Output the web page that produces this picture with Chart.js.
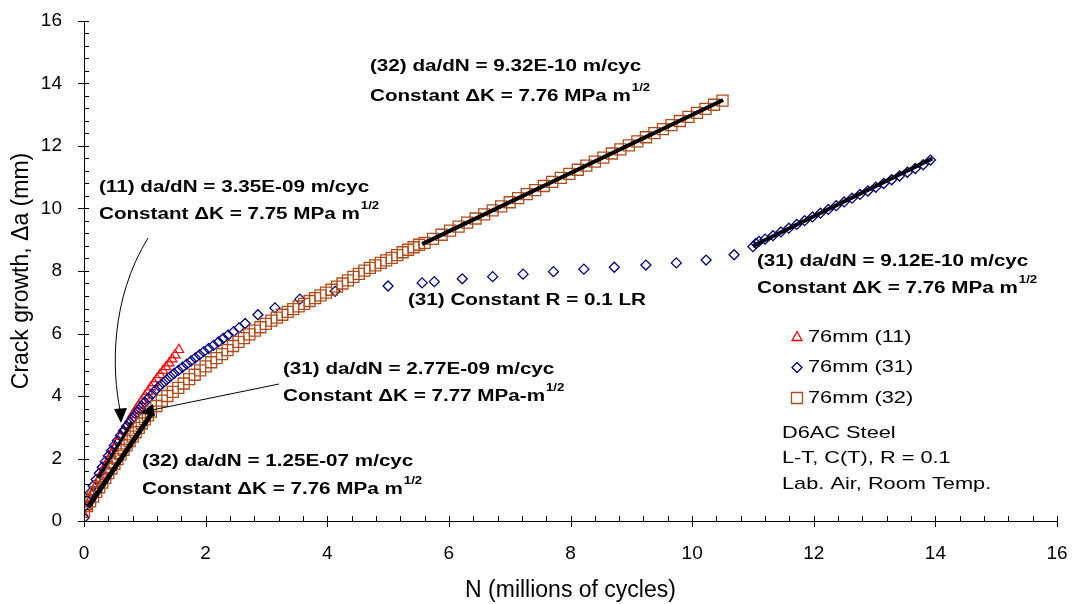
<!DOCTYPE html>
<html>
<head>
<meta charset="utf-8">
<script src="https://cdn.jsdelivr.net/npm/chart.js@4.4.0/dist/chart.umd.min.js"></script>
<style>
  html, body { margin: 0; padding: 0; background: #fff; }
</style>
</head>
<body>
<canvas id="crackChart" width="1077" height="604"></canvas>
<script>
// --- data: N in millions of cycles, crack growth in mm ---
const n11 = [0.00,0.05,0.10,0.15,0.20,0.25,0.30,0.35,0.40,0.45,0.50,0.55,0.60,0.65,0.70,0.75,
             0.80,0.85,0.90,0.95,1.00,1.05,1.10,1.15,1.20,1.25,1.30,1.35,1.40,1.45,1.50,1.56];
const a11 = [0.20,0.45,0.70,0.93,1.15,1.36,1.56,1.76,1.95,2.14,2.33,2.52,2.70,2.88,3.06,3.23,
             3.40,3.55,3.70,3.85,4.00,4.14,4.28,4.42,4.55,4.68,4.81,4.93,5.05,5.18,5.31,5.48];

const n31 = [0.00,0.00,0.05,0.10,0.15,0.20,0.25,0.30,0.35,0.40,0.45,0.50,0.55,0.60,0.65,0.70,0.75,
             0.80,0.85,0.90,0.95,1.00,1.06,1.12,1.18,1.24,1.30,1.36,1.42,1.48,1.55,1.62,1.69,1.76,
             1.83,1.90,1.97,2.05,2.13,2.21,2.29,2.37,2.46,2.55,
             2.65,2.86,3.14,3.55,4.13,5.00,5.56,5.76,6.22,6.72,7.22,7.72,8.22,8.72,9.24,9.74,10.23,10.69,
             11.00,11.05,11.10,11.20,11.33,11.46,11.59,11.72,11.85,11.98,12.11,12.24,12.37,12.50,
             12.63,12.76,12.89,13.02,13.15,13.28,13.41,13.54,13.67,13.80,13.92];
const a31 = [0.10,0.45,0.65,0.90,1.12,1.33,1.53,1.72,1.90,2.08,2.25,2.42,2.58,2.74,2.89,3.03,3.16,
             3.29,3.42,3.55,3.67,3.80,3.93,4.06,4.19,4.31,4.42,4.52,4.62,4.72,4.82,4.92,5.02,5.12,
             5.22,5.32,5.42,5.52,5.62,5.73,5.84,5.95,6.06,6.18,
             6.32,6.60,6.82,7.10,7.35,7.52,7.62,7.66,7.75,7.82,7.90,7.98,8.06,8.12,8.19,8.26,8.35,8.52,
             8.78,8.88,8.95,9.02,9.13,9.25,9.37,9.49,9.61,9.73,9.85,9.97,10.09,10.21,
             10.33,10.45,10.56,10.68,10.80,10.92,11.04,11.16,11.28,11.40,11.55];

const n32 = [0.00,0.05,0.10,0.15,0.20,0.25,0.30,0.35,0.40,0.45,0.50,0.55,0.60,0.65,0.70,0.75,0.80,
             0.85,0.90,0.95,1.00,1.05,1.10,1.19,1.28,1.37,1.46,1.55,1.64,1.73,1.82,1.91,2.00,2.09,
             2.18,2.27,2.36,2.45,2.54,2.63,2.72,2.81,2.90,2.99,3.08,3.17,3.26,3.35,3.44,3.53,3.62,
             3.71,3.80,3.89,3.98,4.07,4.16,4.25,4.34,4.43,4.52,4.61,4.70,4.79,4.88,4.97,5.06,5.15,
             5.24,5.33,5.42,5.51,
             5.60,5.74,5.88,6.02,6.16,6.30,6.44,6.58,6.72,6.86,7.00,7.14,7.28,7.42,7.56,7.70,7.84,
             7.98,8.12,8.26,8.40,8.54,8.68,8.82,8.96,9.10,9.24,9.38,9.52,9.66,9.80,9.94,10.08,10.22,
             10.36,10.50];
const a32 = [0.30,0.48,0.63,0.78,0.93,1.08,1.23,1.38,1.53,1.68,1.83,1.98,2.13,2.28,2.42,2.56,2.70,
             2.84,2.98,3.12,3.25,3.38,3.50,3.68,3.85,4.00,4.13,4.26,4.40,4.54,4.68,4.82,4.95,5.08,
             5.21,5.34,5.47,5.60,5.73,5.85,5.97,6.09,6.20,6.31,6.41,6.51,6.60,6.69,6.78,6.87,6.95,
             7.04,7.13,7.22,7.31,7.40,7.50,7.60,7.70,7.81,7.91,8.01,8.10,8.18,8.26,8.34,8.42,8.51,
             8.60,8.68,8.76,8.84,
             8.90,9.03,9.16,9.29,9.42,9.55,9.68,9.81,9.94,10.07,10.20,10.33,10.46,10.59,10.72,10.85,10.98,
             11.11,11.24,11.37,11.50,11.63,11.76,11.89,12.02,12.15,12.28,12.41,12.54,12.67,12.80,12.93,13.06,13.19,
             13.32,13.45];

// constant dK linear fits (end points)
const fit32aN = [0.07, 1.12], fit32aA = [0.45, 3.46];
const fit31aN = [0.23, 0.79], fit31aA = [1.38, 3.17];
const fit32bN = [5.56, 10.51], fit32bA = [8.86, 13.47];
const fit31bN = [11.00, 13.95], fit31bA = [8.80, 11.60];

const xTicks = [0, 2, 4, 6, 8, 10, 12, 14, 16];
const yTicks = [0, 2, 4, 6, 8, 10, 12, 14, 16];

const seriesNames = ['76mm (11)', '76mm (31)', '76mm (32)'];
const RED = '#ff0000', NAVY = '#000080', BROWN = '#b04c18';

const zip = (xs, ys) => xs.map((v, i) => ({ x: v, y: ys[i] }));

function fitSet(xs, ys, w) {
    return { label: 'fit', data: zip(xs, ys), showLine: true, borderColor: '#000',
             borderWidth: w, pointRadius: 0, borderCapStyle: 'butt', order: 0 };
}

// text in the source is a bit wider than it is tall, so it is drawn with a stretch
function sText(ctx, s, x, y, font, sx) {
    ctx.save();
    ctx.font = font;
    ctx.textBaseline = 'middle';
    ctx.textAlign = 'left';
    ctx.translate(x, y);
    ctx.scale(sx, 1);
    ctx.fillText(s, 0, 0);
    const w = ctx.measureText(s).width * sx;
    ctx.restore();
    return w;
}

const BOLD = 'bold 16px "Liberation Sans", Arial, sans-serif';
const PLAIN = '17px "Liberation Sans", Arial, sans-serif';
const SUP = 'bold 11px "Liberation Sans", Arial, sans-serif';

function dkLine(ctx, x, y, head) {
    const w = sText(ctx, head, x, y, BOLD, 1.29);
    sText(ctx, '1/2', x + w + 1, y - 9, SUP, 1.2);
}

function marker(ctx, style, x, y) {
    ctx.beginPath();
    if (style === 'triangle') {
        ctx.moveTo(x, y - 5.5); ctx.lineTo(x + 5, y + 3.5); ctx.lineTo(x - 5, y + 3.5); ctx.closePath();
    } else if (style === 'diamond') {
        ctx.moveTo(x, y - 5); ctx.lineTo(x + 5, y); ctx.lineTo(x, y + 5); ctx.lineTo(x - 5, y); ctx.closePath();
    } else {
        ctx.rect(x - 5.5, y - 5.5, 11, 11);
    }
    ctx.stroke();
}

const decor = {
    id: 'decor',
    afterDraw(chart) {
        const { ctx, chartArea: ca, scales: { x, y } } = chart;
        ctx.save();
        ctx.strokeStyle = '#000';
        ctx.lineWidth = 1;
        // axes + tick marks
        ctx.beginPath();
        ctx.moveTo(ca.left + 0.5, ca.top);
        ctx.lineTo(ca.left + 0.5, ca.bottom + 0.5);
        ctx.lineTo(ca.right, ca.bottom + 0.5);
        for (let v = 0; v <= 16.001; v += 0.4) {
            const major = Math.abs(v / 2 - Math.round(v / 2)) < 0.01;
            const px = Math.round(x.getPixelForValue(v)) + 0.5;
            const py = Math.round(y.getPixelForValue(v)) + 0.5;
            ctx.moveTo(px, ca.bottom - 5); ctx.lineTo(px, ca.bottom + (major ? 6 : 0));
            ctx.moveTo(ca.left + 5, py); ctx.lineTo(ca.left - (major ? 6 : 0), py);
        }
        ctx.stroke();

        // arrows
        ctx.beginPath();
        ctx.moveTo(148, 238);
        ctx.bezierCurveTo(110, 300, 112, 370, 120, 410);
        ctx.moveTo(279, 384);
        ctx.lineTo(152, 410);
        ctx.stroke();
        ctx.fillStyle = '#000';
        ctx.beginPath();
        ctx.moveTo(121, 423); ctx.lineTo(114, 409); ctx.lineTo(127, 408); ctx.closePath();
        ctx.fill();
        ctx.beginPath();
        ctx.moveTo(140, 413); ctx.lineTo(153, 404); ctx.lineTo(155, 416); ctx.closePath();
        ctx.fill();

        // annotations
        ctx.fillStyle = '#000';
        sText(ctx, '(32) da/dN = 9.32E-10 m/cyc', 370, 67, BOLD, 1.29);
        dkLine(ctx, 370, 97, 'Constant \u0394K = 7.76 MPa m');
        sText(ctx, '(11) da/dN = 3.35E-09 m/cyc', 99, 188, BOLD, 1.29);
        dkLine(ctx, 99, 215, 'Constant \u0394K = 7.75 MPa m');
        sText(ctx, '(31) da/dN = 9.12E-10 m/cyc', 757, 262, BOLD, 1.29);
        dkLine(ctx, 757, 289, 'Constant \u0394K = 7.76 MPa m');
        sText(ctx, '(31) Constant R = 0.1 LR', 408, 301, BOLD, 1.29);
        sText(ctx, '(31) da/dN = 2.77E-09 m/cyc', 283, 370, BOLD, 1.29);
        dkLine(ctx, 283, 397, 'Constant \u0394K = 7.77 MPa-m');
        sText(ctx, '(32) da/dN = 1.25E-07 m/cyc', 142, 462, BOLD, 1.29);
        dkLine(ctx, 142, 490, 'Constant \u0394K = 7.76 MPa m');

        // legend inside the plot
        const styles = ['triangle', 'diamond', 'rect'];
        const cols = [RED, NAVY, BROWN];
        seriesNames.forEach((name, i) => {
            const ly = 337 + i * 30.5;
            ctx.strokeStyle = cols[i];
            ctx.lineWidth = 1.3;
            marker(ctx, styles[i], 797, ly);
            ctx.fillStyle = '#000';
            sText(ctx, name, 808, ly, PLAIN, 1.28);
        });
        ['D6AC Steel', 'L-T, C(T), R = 0.1', 'Lab. Air, Room Temp.'].forEach((s, i) => {
            sText(ctx, s, 782, 433 + i * 25.5, PLAIN, 1.28);
        });
        ctx.restore();
    }
};

new Chart(document.getElementById('crackChart'), {
    type: 'scatter',
    data: {
        datasets: [
            fitSet(fit32aN, fit32aA, 5),
            fitSet(fit31aN, fit31aA, 3),
            fitSet(fit32bN, fit32bA, 4),
            fitSet(fit31bN, fit31bA, 4),
            { label: seriesNames[2], data: zip(n32, a32), pointStyle: 'rect', pointRadius: 7.8,
              borderColor: BROWN, backgroundColor: 'rgba(0,0,0,0)', pointBorderWidth: 1.3, order: 1 },
            { label: seriesNames[1], data: zip(n31, a31), pointStyle: 'rectRot', pointRadius: 5,
              borderColor: NAVY, backgroundColor: 'rgba(0,0,0,0)', pointBorderWidth: 1.3, order: 2 },
            { label: seriesNames[0], data: zip(n11, a11), pointStyle: 'triangle', pointRadius: 5.5,
              borderColor: RED, backgroundColor: 'rgba(0,0,0,0)', pointBorderWidth: 1.2, order: 3 }
        ]
    },
    options: {
        responsive: false,
        animation: false,
        devicePixelRatio: 1,
        layout: { padding: { top: 21, right: 20, left: 0, bottom: 0 } },
        plugins: { legend: { display: false }, tooltip: { enabled: false } },
        scales: {
            x: {
                type: 'linear', min: 0, max: 16,
                afterBuildTicks: s => { s.ticks = xTicks.map(v => ({ value: v })); },
                afterFit: s => { s.height = 83; },
                // tick marks are drawn by the plugin; tickLength only spaces the labels
                grid: { display: false, drawTicks: true, tickLength: 20 },
                border: { display: false },
                ticks: { color: '#000', padding: 1, maxRotation: 0,
                         font: { family: '"Liberation Sans", Arial', size: 19 } },
                title: { display: true, text: 'N (millions of cycles)', color: '#000',
                         padding: { top: 0, bottom: 0 },
                         font: { family: '"Liberation Sans", Arial', size: 23 } }
            },
            y: {
                type: 'linear', min: 0, max: 16,
                afterBuildTicks: s => { s.ticks = yTicks.map(v => ({ value: v })); },
                afterFit: s => { s.width = 84; },
                grid: { display: false, drawTicks: true, tickLength: 21 },
                border: { display: false },
                ticks: { color: '#000', padding: 1,
                         font: { family: '"Liberation Sans", Arial', size: 19 } },
                title: { display: true, text: 'Crack growth, \u0394a (mm)', color: '#000',
                         padding: { top: 8, bottom: 0 },
                         font: { family: '"Liberation Sans", Arial', size: 23 } }
            }
        }
    },
    plugins: [decor]
});
</script>
</body>
</html>
